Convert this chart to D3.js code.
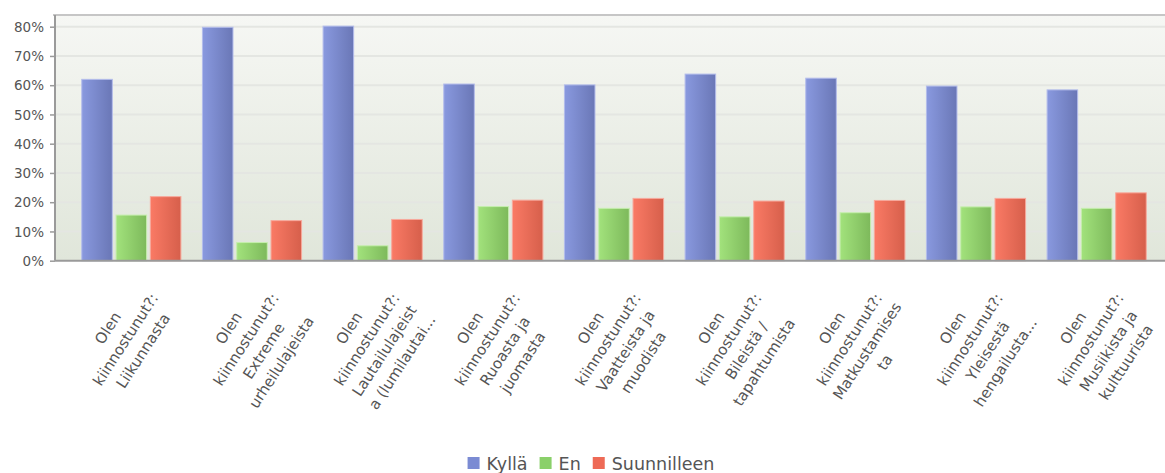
<!DOCTYPE html>
<html><head><meta charset="utf-8">
<script src="https://cdn.jsdelivr.net/npm/d3@7/dist/d3.min.js"></script>
<style>body{margin:0;background:#fff;overflow:hidden}svg{display:block}</style>
</head><body>
<script>
const categories = [
  ["Olen","kiinnostunut?:","Liikunnasta"],
  ["Olen","kiinnostunut?:","Extreme","urheilulajeista"],
  ["Olen","kiinnostunut?:","Lautailulajeist","a (lumilautai..."],
  ["Olen","kiinnostunut?:","Ruoasta ja","juomasta"],
  ["Olen","kiinnostunut?:","Vaatteista ja","muodista"],
  ["Olen","kiinnostunut?:","Bileistä /","tapahtumista"],
  ["Olen","kiinnostunut?:","Matkustamises","ta"],
  ["Olen","kiinnostunut?:","Yleisestä","hengailusta..."],
  ["Olen","kiinnostunut?:","Musiikista ja","kulttuurista"]
];
const seriesNames = ["Kyllä","En","Suunnilleen"];
const kylla = [62.0, 79.8, 80.2, 60.4, 60.1, 63.8, 62.4, 59.7, 58.4];
const en = [15.6, 6.2, 5.1, 18.5, 17.9, 15.0, 16.4, 18.4, 17.9];
const suunnilleen = [21.9, 13.7, 14.1, 20.7, 21.3, 20.4, 20.6, 21.3, 23.2];
const yTicks = [0,10,20,30,40,50,60,70,80];

const W = 1165, H = 473;
const svg = d3.select("body").append("svg").attr("width",W).attr("height",H);
const defs = svg.append("defs");

const bg = defs.append("linearGradient").attr("id","bg").attr("x1",0).attr("y1",0).attr("x2",0).attr("y2",1);
bg.append("stop").attr("offset","0%").attr("stop-color","#f6f7f4");
bg.append("stop").attr("offset","100%").attr("stop-color","#e0e6da");

const colors = [
  {l:"#8999df", r:"#6a77b6", s:"#b3bceb", leg:"#7b8bd3"},
  {l:"#a2e27c", r:"#7db95b", s:"#c5eeae", leg:"#8ad06a"},
  {l:"#fa7a65", r:"#d65f4b", s:"#f7a99c", leg:"#ee6a56"}
];
colors.forEach((c,i)=>{
  const g = defs.append("linearGradient").attr("id","g"+i).attr("x1",0).attr("y1",0).attr("x2",1).attr("y2",0);
  g.append("stop").attr("offset","0%").attr("stop-color",c.l);
  g.append("stop").attr("offset","100%").attr("stop-color",c.r);
});

const plotL = 55, plotR = 1175, plotT = 15;
const y = d3.scaleLinear().domain([0,84]).range([260.7, plotT]);
const idx = d3.range(categories.length);
const x0 = d3.scaleBand().domain(idx).range([71,1157]).paddingInner(0.17).paddingOuter(0.085);
const x1 = d3.scaleBand().domain([0,1,2]).range([0,x0.bandwidth()]).paddingInner(0.08);
const values = [kylla, en, suunnilleen];

// background
svg.append("rect").attr("x",plotL).attr("y",plotT).attr("width",plotR-plotL).attr("height",y(0)-plotT).attr("fill","url(#bg)");

// grid
svg.append("g").selectAll("line").data(yTicks.slice(1)).join("line")
  .attr("x1",plotL).attr("x2",plotR).attr("y1",d=>y(d)).attr("y2",d=>y(d))
  .attr("stroke","#e4e6e2").attr("stroke-width",2);
// top border
svg.append("line").attr("x1",plotL-2).attr("x2",plotR).attr("y1",plotT).attr("y2",plotT)
  .attr("stroke","#c6c6c6").attr("stroke-width",2);

// bars
const groups = svg.append("g").selectAll("g").data(idx).join("g")
  .attr("transform",i=>`translate(${x0(i)},0)`);
groups.selectAll("rect").data(i=>values.map((v,s)=>({s, v:v[i]}))).join("rect")
  .attr("x",d=>x1(d.s)+0.5).attr("width",x1.bandwidth()-1)
  .attr("y",d=>y(d.v)).attr("height",d=>y(0)-y(d.v))
  .attr("fill",d=>`url(#g${d.s})`)
  .attr("stroke",d=>colors[d.s].s).attr("stroke-width",1);

// y axis
const yAxis = d3.axisLeft(y).tickValues(yTicks).tickFormat(d=>d+"%").tickSize(5).tickPadding(6);
const ya = svg.append("g").attr("transform",`translate(${plotL},0)`).call(yAxis);
ya.select(".domain").attr("stroke","#9a9a9a").attr("stroke-width",2).attr("d",`M0,${plotT}V${y(0)}`);
ya.selectAll(".tick line").attr("stroke","#9a9a9a").attr("stroke-width",1.5);
ya.selectAll(".tick text").attr("fill","#555").attr("font-family","DejaVu Sans").attr("font-size",13.5).attr("dy","0.34em");
// baseline
svg.append("line").attr("x1",plotL).attr("x2",plotR).attr("y1",y(0)).attr("y2",y(0))
  .attr("stroke","#9a9a9a").attr("stroke-width",2);

// x labels
const xl = svg.append("g").selectAll("text").data(idx).join("text")
  .attr("transform",i=>`translate(${x0(i)+x0.bandwidth()/2-23.5},328) rotate(-57)`)
  .attr("text-anchor","middle").attr("font-family","DejaVu Sans").attr("font-size",15).attr("fill","#555");
xl.selectAll("tspan").data(i=>categories[i]).join("tspan")
  .attr("x",0).attr("dy",(d,j)=>j===0?"0.35em":"21px").text(d=>d);

// legend
const leg = svg.append("g");
let cx = 0;
seriesNames.forEach((n,i)=>{
  const g = leg.append("g");
  g.append("rect").attr("x",0).attr("y",457).attr("width",12).attr("height",12).attr("fill",colors[i].leg);
  const t = g.append("text").attr("x",19).attr("y",469.5).attr("font-family","DejaVu Sans").attr("font-size",17.5).attr("fill","#555").text(n);
  const w = 19 + t.node().getComputedTextLength();
  g.attr("transform",`translate(${cx},0)`);
  cx += w + 12;
});
const totalW = cx - 12;
leg.attr("transform",`translate(${591 - totalW/2},0)`);
</script>
</body></html>
